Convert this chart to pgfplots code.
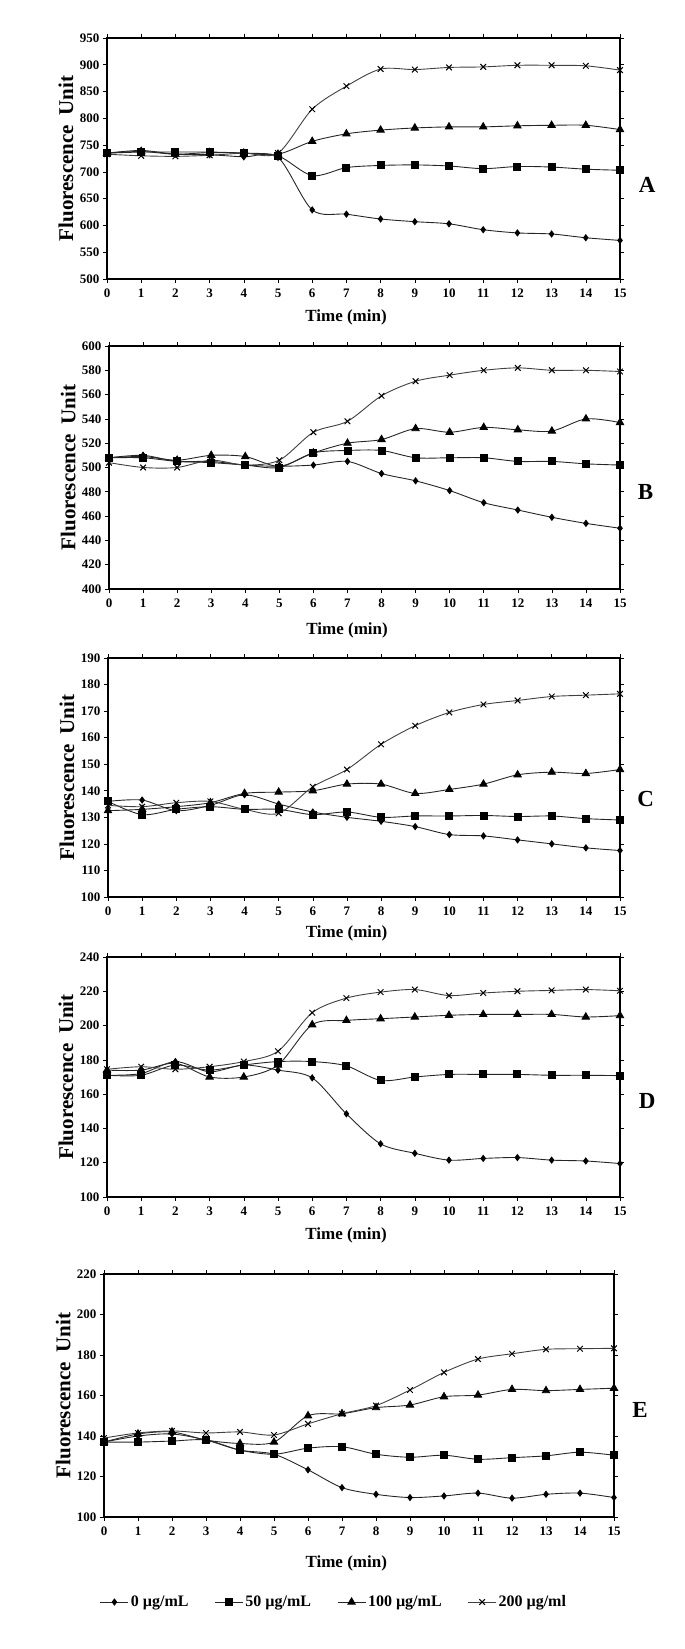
\documentclass[border=0pt]{standalone}
\usepackage{fontspec}
\setmainfont{Liberation Serif}
\usepackage{pgfplots}
\usepackage{pgfplotstable}
\pgfplotsset{compat=1.18}

\pgfplotstableread{
t s0 s50 s100 s200
0 735 735 735 733
1 740 737 738 730
2 733 737 733 729
3 732 737 736 731
4 728 735 735 735
5 727 730 733 735
6 629 693 757 817
7 621 708 771 860
8 612 712 778 892
9 607 713 782 891
10 603 711 784 895
11 592 706 784 896
12 586 710 786 899
13 584 709 787 899
14 577 705 787 898
15 572 703 779 890
}\tA
\pgfplotstableread{
t s0 s50 s100 s200
0 508 508 508 504
1 510 508 509 500
2 505 505 506 500
3 505 504 510 506
4 502 502 509 502
5 501 500 501 506
6 502 512 512 529
7 505 514 520 538
8 495 514 523 559
9 489 508 532 571
10 481 508 529 576
11 471 508 533 580
12 465 505 531 582
13 459 505 530 580
14 454 503 540 580
15 450 502 537 579
}\tB
\pgfplotstableread{
t s0 s50 s100 s200
0 136 136 132.5 134.5
1 136.5 131 133 134
2 132.5 133 134 135.5
3 134.5 134 135.5 136
4 138.5 133 139 133
5 135 133 139.5 131.5
6 132 131 140 141.5
7 130 132 142.5 148
8 128.5 130 142.5 157.5
9 126.5 130.5 139 164.5
10 123.5 130.5 140.5 169.5
11 123 130.7 142.5 172.5
12 121.5 130.3 146 174
13 120 130.5 147 175.5
14 118.5 129.5 146.5 176
15 117.5 129 148 176.5
}\tC
\pgfplotstableread{
t s0 s50 s100 s200
0 171 171 174 174.5
1 172 171 174 176
2 179 177 178 174.5
3 173 174 170 176
4 177 177 170 179
5 174 179 177 185
6 169.5 179 200.5 207.5
7 148.5 176.5 203 216
8 131 168 204 219.5
9 125.5 170 205 221
10 121.5 171.5 206 217.5
11 122.5 171.5 206.5 219
12 123 171.5 206.5 220
13 121.5 171 206.5 220.5
14 121 171 205 221
15 119.5 170.8 205.8 220.3
}\tD
\pgfplotstableread{
t s0 s50 s100 s200
0 137 137 137 139
1 140 137 141 141.5
2 141 137.5 142 142.5
3 138 138 138 141.5
4 133 133 136.3 142
5 131 131 137 140.5
6 123.3 134 150 146
7 114.5 134.7 151 151
8 111.2 131 154 155
9 109.6 129.5 155.3 162.7
10 110.4 130.5 159.4 171.4
11 111.8 128.5 160.2 178
12 109.3 129.3 163 180.6
13 111.2 130.2 162.4 182.8
14 111.8 132 163 183.1
15 109.6 130.5 163.6 183.3
}\tE

\tikzset{letter/.style={font=\bfseries\fontsize{23}{23}\selectfont, anchor=center}}
\pgfplotsset{
  s0/.style={black!85, line width=0.9pt, smooth, mark=diamond*, mark size=3pt, mark options={solid, fill=black, draw=black}},
  s50/.style={black!85, line width=0.9pt, smooth, mark=square*, mark size=3.5pt, mark options={solid, fill=black, draw=black}},
  s100/.style={black!85, line width=0.9pt, smooth, mark=triangle*, mark size=4.2pt, mark options={solid, fill=black, draw=black}},
  s200/.style={black!75, line width=0.9pt, smooth, mark=x, mark size=4pt, mark options={solid, draw=black, line width=1pt}},
  panel/.style={
    scale only axis, clip=false, anchor=north west,
    xmin=0, xmax=15, xtick={0,...,15},
    axis line style={line width=2.2pt},
    tick align=outside, major tick length=4pt,
    every tick/.style={black, line width=0.6pt},
    /pgf/number format/assume math mode=true,
    ticklabel style={font=\bfseries\fontsize{13}{13}\selectfont},
    xticklabel style={yshift=-2pt},
    ylabel={Fluorescence\hspace{0.45em}Unit},
    xlabel={Time (min)},
    ylabel style={at={(axis description cs:-0.080,0.5)}, anchor=center, font=\bfseries\fontsize{21}{21}\selectfont},
    xlabel style={anchor=center, font=\bfseries\fontsize{17}{17}\selectfont},
    legend image code/.code={\draw[mark repeat=2,mark phase=2,##1] plot coordinates {(0pt,0pt)(14pt,0pt)(28pt,0pt)};},
  },
}

\begin{document}
\begin{tikzpicture}
\path[use as bounding box] (0pt,0pt) rectangle (685pt,1649pt);

% Panel A
\begin{axis}[panel, at={(107pt,1611pt)}, width=513pt, height=241pt,
  ymin=500, ymax=950, ytick={500,550,...,950},
  xlabel style={at={(axis description cs:0.466,-0.158)}}]
\addplot[s0] table[x=t,y=s0]{\tA};
\addplot[s50] table[x=t,y=s50]{\tA};
\addplot[s100] table[x=t,y=s100]{\tA};
\addplot[s200] table[x=t,y=s200]{\tA};
\node[letter] at (rel axis cs:1.053,0.39) {A};
\end{axis}

% Panel B
\begin{axis}[panel, at={(109pt,1303pt)}, width=511pt, height=243pt,
  ymin=400, ymax=600, ytick={400,420,...,600},
  xlabel style={at={(axis description cs:0.466,-0.169)}}]
\addplot[s0] table[x=t,y=s0]{\tB};
\addplot[s50] table[x=t,y=s50]{\tB};
\addplot[s100] table[x=t,y=s100]{\tB};
\addplot[s200] table[x=t,y=s200]{\tB};
\node[letter] at (rel axis cs:1.05,0.40) {B};
\end{axis}

% Panel C
\begin{axis}[panel, at={(108pt,991pt)}, width=512pt, height=239pt,
  ymin=100, ymax=190, ytick={100,110,...,190},
  xlabel style={at={(axis description cs:0.466,-0.151)}}]
\addplot[s0] table[x=t,y=s0]{\tC};
\addplot[s50] table[x=t,y=s50]{\tC};
\addplot[s100] table[x=t,y=s100]{\tC};
\addplot[s200] table[x=t,y=s200]{\tC};
\node[letter] at (rel axis cs:1.05,0.41) {C};
\end{axis}

% Panel D
\begin{axis}[panel, at={(107pt,692pt)}, width=513pt, height=240pt,
  ymin=100, ymax=240, ytick={100,120,...,240},
  xlabel style={at={(axis description cs:0.466,-0.158)}}]
\addplot[s0] table[x=t,y=s0]{\tD};
\addplot[s50] table[x=t,y=s50]{\tD};
\addplot[s100] table[x=t,y=s100]{\tD};
\addplot[s200] table[x=t,y=s200]{\tD};
\node[letter] at (rel axis cs:1.053,0.40) {D};
\end{axis}

% Panel E
\begin{axis}[panel, at={(104pt,375pt)}, width=510pt, height=243pt,
  ymin=100, ymax=220, ytick={100,120,...,220},
  xlabel style={at={(axis description cs:0.475,-0.19)}},
  legend columns=4,
  legend style={at={(axis description cs:0.451,-0.35)}, anchor=center, draw=none, fill=none,
    font=\bfseries\fontsize{16}{16}\selectfont,
    /tikz/every even column/.append style={column sep=24pt}}]
\addplot[s0] table[x=t,y=s0]{\tE};
\addplot[s50] table[x=t,y=s50]{\tE};
\addplot[s100] table[x=t,y=s100]{\tE};
\addplot[s200] table[x=t,y=s200]{\tE};
\node[letter] at (rel axis cs:1.051,0.44) {E};
\legend{0 µg/mL, 50 µg/mL, 100 µg/mL, 200 µg/ml}
\end{axis}
\end{tikzpicture}
\end{document}
